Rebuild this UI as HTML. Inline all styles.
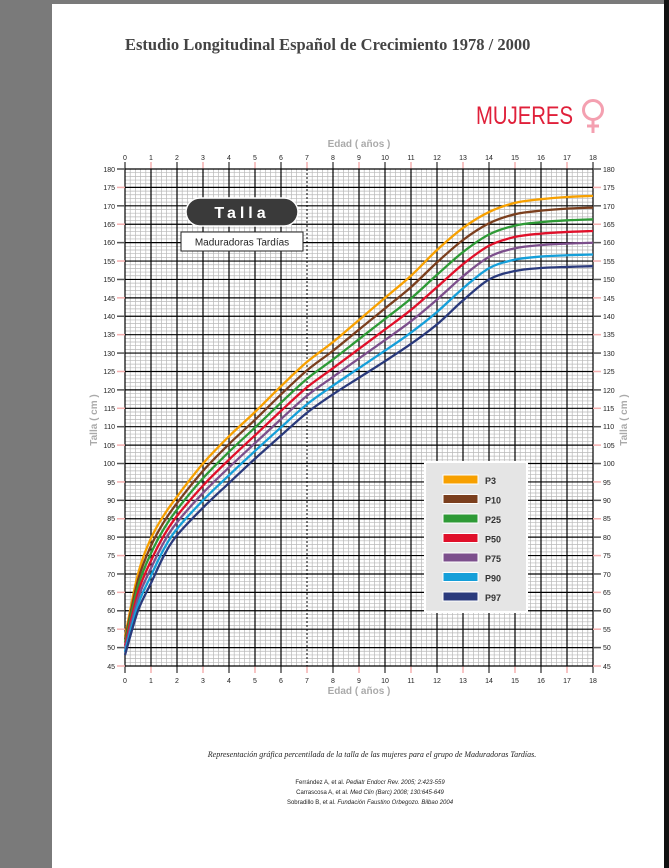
<!DOCTYPE html>
<html><head><meta charset="utf-8"><style>
html,body{margin:0;padding:0;background:#fff}
svg{display:block}
text{font-family:"Liberation Sans",sans-serif}
</style></head><body>
<svg id="s" width="669" height="868" viewBox="0 0 669 868" xmlns="http://www.w3.org/2000/svg">
<rect x="0" y="0" width="669" height="868" fill="#fff"/>
<rect x="0" y="0" width="52" height="868" fill="#7a7a7a"/>
<rect x="0" y="0" width="669" height="4" fill="#7a7a7a"/>
<rect x="664" y="0" width="5" height="868" fill="#111"/>
<text x="125" y="50" font-family="Liberation Serif" font-weight="bold" font-size="16.5" fill="#444" style="font-family:'Liberation Serif',serif">Estudio Longitudinal Español de Crecimiento 1978 / 2000</text>
<text x="476" y="124" font-size="25" fill="#e0203a" textLength="97" lengthAdjust="spacingAndGlyphs">MUJERES</text>
<circle cx="593" cy="110" r="9.5" fill="none" stroke="#f4a0b0" stroke-width="3"/>
<line x1="593" y1="120" x2="593" y2="133" stroke="#f4a0b0" stroke-width="3"/>
<line x1="587" y1="126" x2="599" y2="126" stroke="#f4a0b0" stroke-width="3"/>
<text x="359" y="147" font-size="10" font-weight="bold" fill="#aaa" text-anchor="middle">Edad ( años )</text>
<text x="359" y="694" font-size="10" font-weight="bold" fill="#aaa" text-anchor="middle">Edad ( años )</text>
<text transform="translate(97,420) rotate(-90)" font-size="10" font-weight="bold" fill="#aaa" text-anchor="middle">Talla ( cm )</text>
<text transform="translate(627,420) rotate(-90)" font-size="10" font-weight="bold" fill="#aaa" text-anchor="middle">Talla ( cm )</text>
<g id="grid"></g>
<g id="curves"></g>
<g font-size="7" fill="#222" text-anchor="middle">
<text x="125" y="160">0</text><text x="151" y="160">1</text><text x="177" y="160">2</text><text x="203" y="160">3</text><text x="229" y="160">4</text><text x="255" y="160">5</text><text x="281" y="160">6</text><text x="307" y="160">7</text><text x="333" y="160">8</text><text x="359" y="160">9</text><text x="385" y="160">10</text><text x="411" y="160">11</text><text x="437" y="160">12</text><text x="463" y="160">13</text><text x="489" y="160">14</text><text x="515" y="160">15</text><text x="541" y="160">16</text><text x="567" y="160">17</text><text x="593" y="160">18</text>
<text x="125" y="683">0</text><text x="151" y="683">1</text><text x="177" y="683">2</text><text x="203" y="683">3</text><text x="229" y="683">4</text><text x="255" y="683">5</text><text x="281" y="683">6</text><text x="307" y="683">7</text><text x="333" y="683">8</text><text x="359" y="683">9</text><text x="385" y="683">10</text><text x="411" y="683">11</text><text x="437" y="683">12</text><text x="463" y="683">13</text><text x="489" y="683">14</text><text x="515" y="683">15</text><text x="541" y="683">16</text><text x="567" y="683">17</text><text x="593" y="683">18</text>
</g>
<g font-size="7" fill="#222" text-anchor="end">
<text x="115" y="172">180</text><text x="115" y="190">175</text><text x="115" y="209">170</text><text x="115" y="227">165</text><text x="115" y="245">160</text><text x="115" y="264">155</text><text x="115" y="282">150</text><text x="115" y="301">145</text><text x="115" y="319">140</text><text x="115" y="337">135</text><text x="115" y="356">130</text><text x="115" y="374">125</text><text x="115" y="393">120</text><text x="115" y="411">115</text><text x="115" y="429">110</text><text x="115" y="448">105</text><text x="115" y="466">100</text><text x="115" y="485">95</text><text x="115" y="503">90</text><text x="115" y="521">85</text><text x="115" y="540">80</text><text x="115" y="558">75</text><text x="115" y="577">70</text><text x="115" y="595">65</text><text x="115" y="613">60</text><text x="115" y="632">55</text><text x="115" y="650">50</text><text x="115" y="669">45</text>
</g>
<g font-size="7" fill="#222" text-anchor="start">
<text x="603" y="172">180</text><text x="603" y="190">175</text><text x="603" y="209">170</text><text x="603" y="227">165</text><text x="603" y="245">160</text><text x="603" y="264">155</text><text x="603" y="282">150</text><text x="603" y="301">145</text><text x="603" y="319">140</text><text x="603" y="337">135</text><text x="603" y="356">130</text><text x="603" y="374">125</text><text x="603" y="393">120</text><text x="603" y="411">115</text><text x="603" y="429">110</text><text x="603" y="448">105</text><text x="603" y="466">100</text><text x="603" y="485">95</text><text x="603" y="503">90</text><text x="603" y="521">85</text><text x="603" y="540">80</text><text x="603" y="558">75</text><text x="603" y="577">70</text><text x="603" y="595">65</text><text x="603" y="613">60</text><text x="603" y="632">55</text><text x="603" y="650">50</text><text x="603" y="669">45</text>
</g>
<rect x="186" y="198" width="112" height="28" rx="14" fill="#3a3a3a" stroke="#fff" stroke-width="1.5"/>
<text x="242" y="218" font-size="16" font-weight="bold" fill="#fff" text-anchor="middle" letter-spacing="4">Talla</text>
<rect x="181" y="232" width="122" height="19" fill="#fff" stroke="#222" stroke-width="1"/>
<text x="242" y="245.5" font-size="10" fill="#222" text-anchor="middle">Maduradoras Tardías</text>
<rect x="425" y="462" width="102" height="150" fill="#e5e5e5" stroke="#fff" stroke-width="2"/>
<g font-size="9" font-weight="bold" fill="#333">
<rect x="443" y="475" width="35" height="9" fill="#f7a000" stroke="#fff"/><text x="485" y="484">P3</text>
<rect x="443" y="494.5" width="35" height="9" fill="#7b3f1e" stroke="#fff"/><text x="485" y="503.5">P10</text>
<rect x="443" y="514" width="35" height="9" fill="#2e9a36" stroke="#fff"/><text x="485" y="523">P25</text>
<rect x="443" y="533.5" width="35" height="9" fill="#e0102a" stroke="#fff"/><text x="485" y="542.5">P50</text>
<rect x="443" y="553" width="35" height="9" fill="#7c4f8c" stroke="#fff"/><text x="485" y="562">P75</text>
<rect x="443" y="572.5" width="35" height="9" fill="#159fd9" stroke="#fff"/><text x="485" y="581.5">P90</text>
<rect x="443" y="592" width="35" height="9" fill="#2a3a7c" stroke="#fff"/><text x="485" y="601">P97</text>
</g>
<text x="372" y="757" font-size="8" font-style="italic" fill="#222" text-anchor="middle" style="font-family:'Liberation Serif',serif">Representación gráfica percentilada de la talla de las mujeres para el grupo de Maduradoras Tardías.</text>
<g font-size="6" fill="#222" text-anchor="middle">
<text x="370" y="784">Ferrández A, et al. <tspan font-style="italic">Pediatr Endocr Rev. 2005; 2:423-559</tspan></text>
<text x="370" y="794">Carrascosa A, et al. <tspan font-style="italic">Med Clin (Barc) 2008; 130:645-649</tspan></text>
<text x="370" y="804">Sobradillo B, et al. <tspan font-style="italic">Fundación Faustino Orbegozo. Bilbao 2004</tspan></text>
</g>
</svg>
<script>
var NS="http://www.w3.org/2000/svg";
function X(a){return 125+a*26}
function Y(c){return 169+(180-c)*3.6815}
function L(g,x1,y1,x2,y2,c,w,d){var l=document.createElementNS(NS,"line");l.setAttribute("x1",x1);l.setAttribute("y1",y1);l.setAttribute("x2",x2);l.setAttribute("y2",y2);l.setAttribute("stroke",c);l.setAttribute("stroke-width",w);if(d)l.setAttribute("stroke-dasharray",d);g.appendChild(l);}
var g=document.getElementById("grid");
for(var i=0;i<=90;i++){if(i%5)L(g,X(i/5),Y(180),X(i/5),Y(45),"#b8b8b8",0.7);}
for(var c=45;c<=180;c++){if(c%5)L(g,X(0),Y(c),X(18),Y(c),"#b8b8b8",0.7);}
for(var a=0;a<=18;a++){L(g,X(a),Y(180),X(a),Y(45),"#000",a==7?1:1.2,a==7?"2,2":null);
 L(g,X(a),Y(180)-7,X(a),Y(180),a%2?"#f4b0b0":"#555",1.5);L(g,X(a),Y(45),X(a),Y(45)+7,a%2?"#f4b0b0":"#555",1.5);}
for(var c=45;c<=180;c+=5){L(g,X(0),Y(c),X(18),Y(c),"#000",1.2);
 var col=c%10?"#f4b0b0":"#555";L(g,X(0)-8,Y(c),X(0),Y(c),col,1.5);L(g,X(18),Y(c),X(18)+8,Y(c),col,1.5);}
var ages=[0,0.5,1,1.5,2,3,4,5,6,7,8,9,10,11,12,13,14,15,16,17,18];
var top_=[53,70,79.7,86,91,100,107.4,114,121,127.6,133,139,145,151,158,164,168.3,170.8,171.8,172.4,172.7];
var bot=[48,60,67.5,75,80.5,88,94.7,101.3,107.6,113.8,118.8,123.3,127.8,132.5,137.8,144.3,150,152.3,153.1,153.4,153.6];
var cols=["#f7a000","#7b3f1e","#2e9a36","#e0102a","#7c4f8c","#159fd9","#2a3a7c"];
var cg=document.getElementById("curves");
for(var k=0;k<7;k++){var f=k/6;var pts=ages.map(function(a,j){return [X(a),Y(top_[j]*(1-f)+bot[j]*f)]});
 var d="M"+pts[0][0]+","+pts[0][1];
 for(var j=0;j<pts.length-1;j++){var p0=pts[Math.max(j-1,0)],p1=pts[j],p2=pts[j+1],p3=pts[Math.min(j+2,pts.length-1)];
  d+=" C"+(p1[0]+(p2[0]-p0[0])/6)+","+(p1[1]+(p2[1]-p0[1])/6)+" "+(p2[0]-(p3[0]-p1[0])/6)+","+(p2[1]-(p3[1]-p1[1])/6)+" "+p2[0]+","+p2[1];}
 var p=document.createElementNS(NS,"path");p.setAttribute("d",d);p.setAttribute("fill","none");p.setAttribute("stroke",cols[k]);p.setAttribute("stroke-width","2.3");cg.appendChild(p);}
</script>
</body></html>
